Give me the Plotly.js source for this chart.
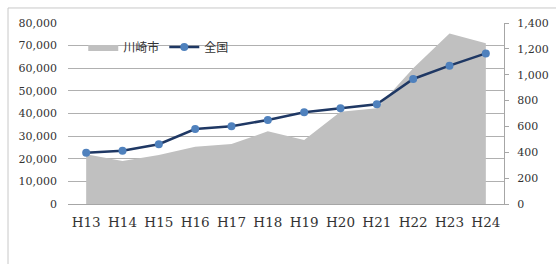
<!DOCTYPE html>
<html><head><meta charset="utf-8">
<script src="https://cdn.plot.ly/plotly-3.0.1.min.js"></script>
<style>html,body{margin:0;padding:0;background:#fff;}#chart{width:556px;height:264px;}</style>
</head><body><div id="chart"></div>
<script>
const years = ["H13","H14","H15","H16","H17","H18","H19","H20","H21","H22","H23","H24"];
const kawasaki = [22000,19000,21700,25300,26500,32100,28300,40800,42300,60000,75400,71000];
const zenkoku = [397,412,462,580,601,650,709,740,771,967,1070,1165];
const seriesNames = ["川崎市","全国"];

const tickFont = {family:"DejaVu Serif, serif", size:11, color:"#333"};
const xFont = {family:"DejaVu Serif, serif", size:13.5, color:"#333"};
const data = [
  {x:years, y:kawasaki, name:seriesNames[0], type:"scatter", mode:"lines", fill:"tozeroy",
   fillcolor:"#c0c0c0", line:{width:0, color:"#c0c0c0"}, yaxis:"y"},
  {x:years, y:zenkoku, name:seriesNames[1], type:"scatter", mode:"lines+markers",
   line:{color:"#1f3864", width:2.5}, marker:{color:"#4f81bd", size:8}, yaxis:"y2"}
];
const layout = {
  width:556, height:264,
  margin:{l:68, r:52, t:23, b:60},
  paper_bgcolor:"#fff", plot_bgcolor:"rgba(0,0,0,0)",
  showlegend:true,
  legend:{orientation:"h", x:0.035, y:0.867, xanchor:"left", yanchor:"middle",
    bgcolor:"rgba(0,0,0,0)", font:{family:"Noto Sans CJK JP", size:12, color:"#333"},
    itemwidth:30, traceorder:"normal"},
  xaxis:{type:"category", range:[-0.5,11.5], showgrid:false, showline:true, linecolor:"#a6a6a6",
    linewidth:1, tickfont:xFont, ticks:"", ticklabelstandoff:6, fixedrange:true},
  yaxis:{range:[0,80000], dtick:10000, tickformat:",d", showgrid:true, gridcolor:"#b0b0b0",
    gridwidth:1, zeroline:false, showline:false, tickfont:tickFont, ticklabelstandoff:10},
  yaxis2:{range:[0,1400], dtick:200, tickformat:",d", overlaying:"y", side:"right",
    showgrid:false, zeroline:false, showline:true, linecolor:"#a6a6a6", linewidth:1,
    ticks:"outside", ticklen:4, tickcolor:"#a6a6a6", tickfont:tickFont, ticklabelstandoff:6},
  shapes:[{type:"rect", xref:"paper", yref:"paper", x0:-0.1376, x1:1.3, y0:-0.6, y1:1.083,
    line:{color:"#c8c8c8", width:1}, fillcolor:"rgba(0,0,0,0)", layer:"below"}]
};
Plotly.newPlot("chart", data, layout, {displayModeBar:false, staticPlot:true});
</script></body></html>
